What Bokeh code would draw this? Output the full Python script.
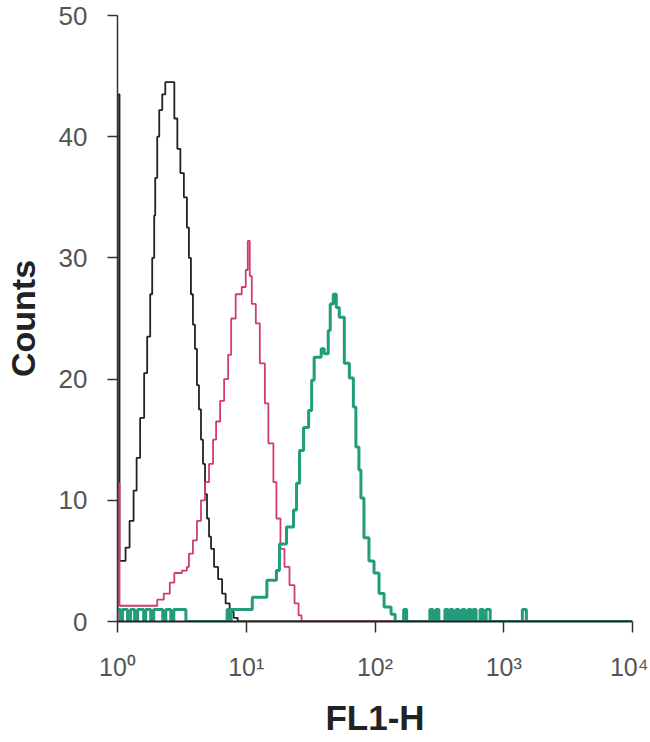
import numpy as np
from bokeh.plotting import figure
from bokeh.models import Range1d, FixedTicker
from bokeh.embed import file_html
from bokeh.resources import INLINE

# ---- data: FL1-H channel (0..1023, 4 decades) and counts ----
# (first pair = baseline at channel 0, so the first-bin spike is drawn)
black_ch = [0, 0, 4, 16, 24, 32, 38, 45, 53, 59, 65, 69, 73, 75, 79, 83, 89, 95, 113, 119, 125,
            132, 138, 142, 146, 150, 154, 158, 162, 166, 170, 174, 178, 182, 186, 192, 200,
            208, 215, 223, 231, 239, 1023]
black_counts = [0, 43.5, 5.0, 6.1, 8.3, 10.8, 13.5, 16.8, 20.5, 23.5, 27, 30, 33.5, 36.6, 40, 42.2,
                43.5, 44.5, 41.5, 39, 37, 35, 32.5, 30, 27, 24.5, 22.5, 19.5, 17.5, 15, 13,
                10.5, 8.5, 7, 6, 4.5, 3.5, 2.3, 1.5, 0.8, 0.3, 0, 0]

magenta_ch = [0, 0, 4, 79, 92, 104, 113, 128, 138, 142, 150, 158, 166, 174, 182, 190, 196, 204,
              212, 220, 226, 235, 247, 255, 259, 263, 267, 275, 283, 293, 300, 310, 316, 324,
              332, 342, 352, 360, 366, 1023]
magenta_counts = [0, 11.4, 1.3, 1.8, 2.3, 3.2, 4.0, 4.2, 4.5, 5.6, 6.7, 8.3, 10, 11.5, 13, 15,
                  16.5, 18.2, 20, 22, 25, 27, 27.6, 29, 31.4, 28.5, 26.2, 24.6, 21.3, 18, 14.7,
                  11.5, 8.5, 6, 4.5, 3, 1.5, 0.5, 0, 0]

green_ch = [0, 6, 10, 20, 26, 34, 40, 52, 56, 66, 72, 90, 96, 106, 112, 136, 218, 222, 226,
            268, 297, 316, 322, 336, 350, 356, 362, 370, 380, 386, 391, 405, 411, 419, 423,
            429, 435, 441, 451, 461, 469, 474, 480, 484, 490, 500, 510, 520, 530, 544, 552,
            569, 575, 621, 627, 633, 639, 651, 657, 661, 667, 673, 679, 685, 691, 697, 703,
            707, 713, 721, 727, 733, 741, 805, 813, 1023]
green_counts = [1, 0, 1, 0, 1, 0, 1, 0, 1, 0, 1, 0, 1, 0, 1, 0, 1, 0, 1,
                2, 3.4, 4.2, 6.4, 7.8, 9.2, 11.4, 14.1, 16, 17.4, 19.9, 21.8, 22.5, 22.1, 24,
                26.2, 27, 25.9, 25.1, 21.3, 20.1, 17.7, 14.4, 12.5, 10.2, 6.9, 5, 4, 2.3, 1.2,
                0.6, 0, 1, 0, 1, 0, 1, 0, 1, 0, 1, 0, 1, 0, 1, 0, 1, 0, 1, 0, 1, 0, 1, 0, 1,
                0, 0]

x_ticks = [1, 10, 100, 1000, 10000]
x_tick_labels = ["10⁰", "10¹", "10²", "10³", "10⁴"]
y_ticks = [0, 10, 20, 30, 40, 50]

CHANNELS_PER_DECADE = 256


def to_fl1(ch):
    return 10 ** (np.asarray(ch, dtype=float) / CHANNELS_PER_DECADE)


p = figure(
    width=648, height=740,
    x_axis_type="log",
    x_range=Range1d(1, 10000), y_range=Range1d(0, 50),
    output_backend="svg", toolbar_location=None,
    min_border_left=115, min_border_right=16, min_border_top=15, min_border_bottom=119,
)
p.background_fill_color = "white"
p.border_fill_color = "white"
p.outline_line_color = None
p.grid.grid_line_color = None

p.step(to_fl1(black_ch), black_counts, mode="after", line_color="#222222", line_width=1.8)
p.step(to_fl1(magenta_ch), magenta_counts, mode="after", line_color="#d23a74", line_width=1.8)
p.step(to_fl1(green_ch), green_counts, mode="after", line_color="#229c7c", line_width=3)

tick_font = "Liberation Sans"

p.xaxis.ticker = FixedTicker(ticks=x_ticks)
p.xaxis.major_label_overrides = {t: l for t, l in zip(x_ticks, x_tick_labels)}
p.xaxis.minor_tick_line_color = None
p.xaxis.major_tick_out = 11
p.xaxis.major_tick_in = 0
p.xaxis.axis_line_color = "#222222"
p.xaxis.axis_line_width = 2
p.xaxis.major_tick_line_color = "#333333"
p.xaxis.major_tick_line_width = 1.5
p.xaxis.major_label_standoff = 20
p.xaxis.major_label_text_font = tick_font
p.xaxis.major_label_text_font_size = "25px"
p.xaxis.major_label_text_color = "#555555"
p.xaxis.axis_label = "FL1-H"
p.xaxis.axis_label_text_font = "Liberation Sans"
p.xaxis.axis_label_text_font_style = "bold"
p.xaxis.axis_label_text_font_size = "35px"
p.xaxis.axis_label_text_color = "#222222"
p.xaxis.axis_label_standoff = 14

p.yaxis.ticker = FixedTicker(ticks=y_ticks)
p.yaxis.minor_tick_line_color = None
p.yaxis.major_tick_out = 10
p.yaxis.major_tick_in = 0
p.yaxis.axis_line_color = "#333333"
p.yaxis.axis_line_width = 1.5
p.yaxis.major_tick_line_color = "#333333"
p.yaxis.major_tick_line_width = 1.5
p.yaxis.major_label_standoff = 20
p.yaxis.major_label_text_font = tick_font
p.yaxis.major_label_text_font_size = "26px"
p.yaxis.major_label_text_color = "#555555"
p.yaxis.axis_label = "Counts"
p.yaxis.axis_label_text_font = "Liberation Sans"
p.yaxis.axis_label_text_font_style = "bold"
p.yaxis.axis_label_text_font_size = "34px"
p.yaxis.axis_label_text_color = "#222222"
p.yaxis.axis_label_standoff = 14

open("out.html", "w").write(file_html(p, INLINE))
